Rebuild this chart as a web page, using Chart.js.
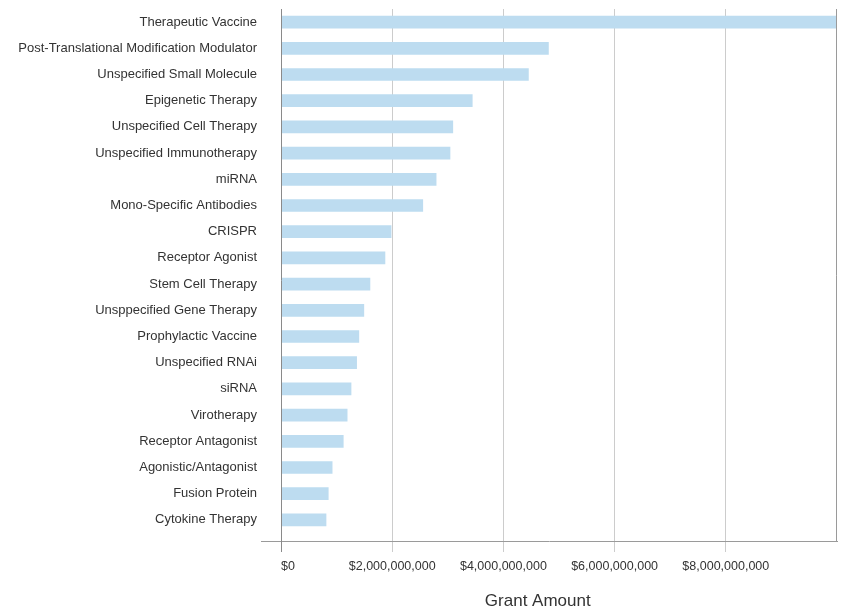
<!DOCTYPE html>
<html>
<head>
<meta charset="utf-8">
<script src="https://cdn.jsdelivr.net/npm/chart.js@4"></script>
<style>
  html, body { margin: 0; padding: 0; background: #ffffff; }
  #wrap { width: 841px; height: 609px; position: relative; }
</style>
</head>
<body>
<div id="wrap"><canvas id="c" width="841" height="609"></canvas></div>
<script>
const categories = [
  "Therapeutic Vaccine",
  "Post-Translational Modification Modulator",
  "Unspecified Small Molecule",
  "Epigenetic Therapy",
  "Unspecified Cell Therapy",
  "Unspecified Immunotherapy",
  "miRNA",
  "Mono-Specific Antibodies",
  "CRISPR",
  "Receptor Agonist",
  "Stem Cell Therapy",
  "Unsppecified Gene Therapy",
  "Prophylactic Vaccine",
  "Unspecified RNAi",
  "siRNA",
  "Virotherapy",
  "Receptor Antagonist",
  "Agonistic/Antagonist",
  "Fusion Protein",
  "Cytokine Therapy"
];

const grantAmounts = [
  10000000000,
  4810000000,
  4450000000,
  3440000000,
  3090000000,
  3040000000,
  2790000000,
  2550000000,
  1980000000,
  1870000000,
  1600000000,
  1490000000,
  1400000000,
  1360000000,
  1260000000,
  1190000000,
  1120000000,
  920000000,
  850000000,
  810000000
];

const xTickValues = [0, 2000000000, 4000000000, 6000000000, 8000000000];
const xMax = 10000000000;
const xTitle = "Grant Amount";

const FONT = "'Liberation Sans', Arial, sans-serif";

const axisLines = {
  id: 'axisLines',
  afterDraw(chart) {
    const ctx = chart.ctx;
    const a = chart.chartArea;
    const xs = chart.scales.x;
    const x0 = Math.round(xs.getPixelForValue(0)) + 0.5;
    const yb = Math.round(a.bottom + 8) + 0.5;
    ctx.save();
    ctx.lineWidth = 1;
    ctx.strokeStyle = '#9a9a9a';
    ctx.beginPath();
    ctx.moveTo(a.left - 20, yb);
    ctx.lineTo(a.right + 1, yb);
    ctx.stroke();
    ctx.beginPath();
    ctx.moveTo(Math.round(a.right) - 0.5, a.top);
    ctx.lineTo(Math.round(a.right) - 0.5, yb);
    ctx.stroke();
    ctx.strokeStyle = '#8a8a8a';
    ctx.beginPath();
    ctx.moveTo(x0, a.top);
    ctx.lineTo(x0, a.bottom + 19);
    ctx.stroke();
    ctx.restore();
  }
};

new Chart(document.getElementById('c'), {
  type: 'bar',
  data: {
    labels: categories,
    datasets: [{
      data: grantAmounts,
      backgroundColor: '#bddcf0',
      borderWidth: 0,
      barThickness: 12
    }]
  },
  plugins: [axisLines],
  options: {
    indexAxis: 'y',
    responsive: false,
    animation: false,
    layout: { autoPadding: false, padding: { left: 0, right: 4, top: 9, bottom: 0 } },
    plugins: {
      legend: { display: false },
      tooltip: { enabled: false }
    },
    scales: {
      y: {
        type: 'category',
        offset: true,
        grid: { display: false },
        border: { display: false },
        ticks: {
          color: '#333333',
          font: { family: FONT, size: 13 },
          padding: 16,
          autoSkip: false
        },
        afterFit(scale) {
          scale.width = 281;
          scale.paddingTop = 0;
          scale.paddingBottom = 0;
        }
      },
      x: {
        type: 'linear',
        min: 0,
        max: xMax,
        afterBuildTicks(scale) {
          scale.ticks = xTickValues.concat([xMax]).map(v => ({ value: v }));
        },
        grid: {
          color: ctx => (ctx.tick && (ctx.tick.value === 0 || ctx.tick.value === xMax)) ? 'rgba(0,0,0,0)' : '#cccccc',
          tickLength: 19,
          lineWidth: 1
        },
        border: { display: false },
        ticks: {
          color: '#333333',
          font: { family: FONT, size: 12.5 },
          padding: 7,
          align: 'inner',
          maxRotation: 0,
          callback: v => v === xMax ? '' : '$' + Number(v).toLocaleString('en-US')
        },
        title: {
          display: true,
          text: xTitle + '\u00A0\u00A0\u00A0\u00A0\u00A0\u00A0\u00A0\u00A0\u00A0',
          color: '#333333',
          font: { family: FONT, size: 17 },
          padding: { top: 0, bottom: -3 }
        },
        afterFit(scale) {
          scale.height = 76;
          scale.paddingLeft = 0;
          scale.paddingRight = 0;
        }
      }
    }
  }
});
</script>
</body>
</html>
